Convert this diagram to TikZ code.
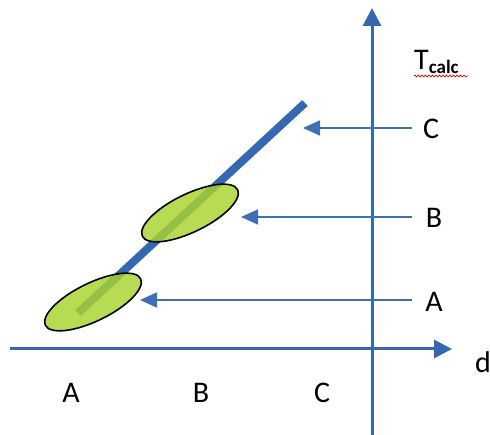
\documentclass[tikz,border=0pt]{standalone}
\usepackage{fontspec}
\setmainfont{Carlito}
\usetikzlibrary{arrows.meta,shapes.geometric,decorations.pathmorphing}
\definecolor{axblue}{RGB}{52,104,176}
\definecolor{arblue}{RGB}{62,112,182}
\definecolor{lime}{RGB}{168,212,46}
\tikzset{
  axis/.style={axblue,line width=3pt,-{Triangle[length=18pt,width=18pt]}},
  pointer/.style={arblue,line width=1.6pt,-{Triangle[length=17pt,width=15pt]}},
  lbl/.style={font=\fontsize{30}{30}\selectfont,inner sep=0pt},
  blob/.style={ellipse,draw=black,line width=1.6pt,fill=lime,fill opacity=0.82,
    minimum width=106pt,minimum height=38pt,inner sep=0pt,rotate=26},
  trend/.style={axblue,line width=8pt}
}
\begin{document}
\begin{tikzpicture}[x=1pt,y=-1pt]
\useasboundingbox[fill=white] (0,0) rectangle (490,435);
% axes
\coordinate (xs) at (10,349);
\coordinate (xe) at (452,349);
\coordinate (ys) at (372,435);
\coordinate (ye) at (372,8);
\draw[axis] (xs) -- (xe);
\draw[axis] (ys) -- (ye);
% trend line
\coordinate (t0) at (78,313);
\coordinate (t1) at (305,103);
\draw[trend] (t0) -- (t1);
% ellipses
\node[blob] (eA) at (93,302) {};
\node[blob] (eB) at (190,213) {};
% pointer arrows
\coordinate (sC) at (412,128);
\coordinate (pC) at (303,128);
\coordinate (sB) at (412,217);
\coordinate (pB) at (241,217);
\coordinate (sA) at (412,300);
\coordinate (pA) at (140,300);
\draw[pointer] (sC) -- (pC);
\draw[pointer] (sB) -- (pB);
\draw[pointer] (sA) -- (pA);
% right labels
\node[lbl] (rC) at (431,129) {C};
\node[lbl] (rB) at (434,218) {B};
\node[lbl] (rA) at (434,302) {A};
% bottom labels
\node[lbl] (bA) at (71,393) {A};
\node[lbl] (bB) at (201,393) {B};
\node[lbl] (bC) at (322,393) {C};
% axis labels
\node[lbl] (d) at (483,362) {d};
\node[lbl,anchor=base west] (T) at (414,70) {T\raisebox{-4pt}{\fontsize{19}{19}\selectfont\bfseries calc}};
\draw[red!85!black,line width=0.7pt,decorate,decoration={snake,amplitude=0.9pt,segment length=3.5pt}] (414,76) -- (468,76);
\end{tikzpicture}
\end{document}
